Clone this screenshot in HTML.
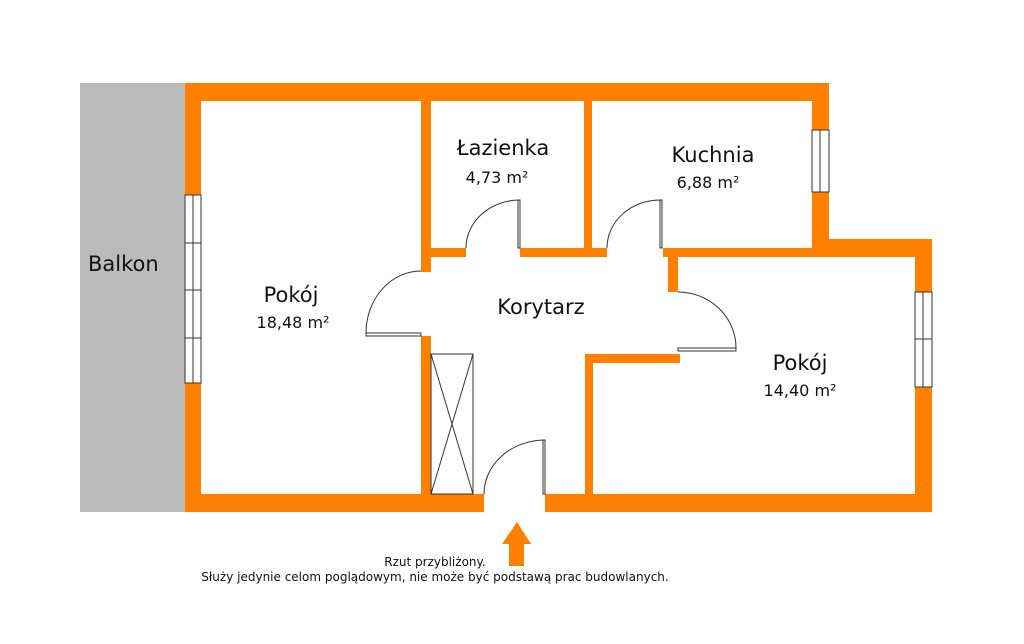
<!DOCTYPE html>
<html><head><meta charset="utf-8"><style>
html,body{margin:0;padding:0;background:#fff;}
svg{display:block;}
text{font-family:"DejaVu Sans","Liberation Sans",sans-serif;fill:#111;}
</style></head><body>
<svg width="1024" height="644" viewBox="0 0 1024 644" xmlns="http://www.w3.org/2000/svg">
<rect x="80" y="83" width="105" height="429" fill="#bbbbbb"/>
<g fill="#ff8000">
<rect x="185" y="83" width="644" height="18"/>
<rect x="185" y="83" width="16" height="429"/>
<rect x="185" y="494" width="299" height="18"/>
<rect x="545" y="494" width="387" height="18"/>
<rect x="812" y="83" width="17" height="174"/>
<rect x="812" y="239" width="120" height="18"/>
<rect x="663" y="248" width="160" height="9"/>
<rect x="915" y="239" width="17" height="273"/>
<rect x="421" y="101" width="10" height="171"/>
<rect x="421" y="336" width="10" height="158"/>
<rect x="584" y="101" width="8" height="156"/>
<rect x="431" y="248" width="35" height="9"/>
<rect x="520" y="248" width="87" height="9"/>
<rect x="668" y="257" width="10" height="35"/>
<rect x="585" y="354" width="95" height="9"/>
<rect x="585" y="354" width="8" height="140"/>
<polygon points="517,522 531,544 524,544 524,566 509,566 509,544 502,544"/>
</g>
<g fill="#fff" stroke="#333" stroke-width="1">
<rect x="185" y="195" width="16" height="188"/>
<line x1="193" y1="195" x2="193" y2="383"/>
<line x1="185" y1="243" x2="201" y2="243"/>
<line x1="185" y1="290" x2="201" y2="290"/>
<line x1="185" y1="338" x2="201" y2="338"/>
<rect x="812" y="130" width="17" height="62"/>
<line x1="820" y1="130" x2="820" y2="192"/>
<rect x="915" y="292" width="17" height="95"/>
<line x1="923" y1="292" x2="923" y2="387"/>
<line x1="915" y1="339" x2="932" y2="339"/>
<rect x="431" y="354" width="42" height="140"/>
<line x1="431" y1="354" x2="473" y2="494"/>
<line x1="473" y1="354" x2="431" y2="494"/>
<rect x="518" y="200" width="2" height="48"/>
<rect x="660" y="200" width="2" height="48"/>
<rect x="366" y="333" width="55" height="3"/>
<rect x="678" y="348" width="58" height="3"/>
<rect x="543" y="440" width="2" height="54"/>
</g>
<g fill="none" stroke="#333" stroke-width="1">
<path d="M466,248 A54,48 0 0 1 520,200"/>
<path d="M607,248 A53,48 0 0 1 660,200"/>
<path d="M366,333 A55,62 0 0 1 421,271"/>
<path d="M678,292 A58,56 0 0 1 736,348"/>
<path d="M484,494 A61,54 0 0 1 545,440"/>
</g>
<text x="88" y="271" font-size="21">Balkon</text>
<text x="503" y="155" font-size="21" text-anchor="middle">Łazienka</text>
<text x="497" y="183" font-size="16" text-anchor="middle">4,73 m²</text>
<text x="713" y="162" font-size="21" text-anchor="middle">Kuchnia</text>
<text x="708" y="188" font-size="16" text-anchor="middle">6,88 m²</text>
<text x="291" y="302" font-size="21" text-anchor="middle">Pokój</text>
<text x="293" y="328" font-size="16" text-anchor="middle">18,48 m²</text>
<text x="541" y="314" font-size="21" text-anchor="middle">Korytarz</text>
<text x="800" y="370" font-size="21" text-anchor="middle">Pokój</text>
<text x="800" y="396" font-size="16" text-anchor="middle">14,40 m²</text>
<text x="435" y="566" font-size="12" text-anchor="middle">Rzut przybliżony.</text>
<text x="435" y="581" font-size="12" text-anchor="middle">Służy jedynie celom poglądowym, nie może być podstawą prac budowlanych.</text>
</svg>
</body></html>
